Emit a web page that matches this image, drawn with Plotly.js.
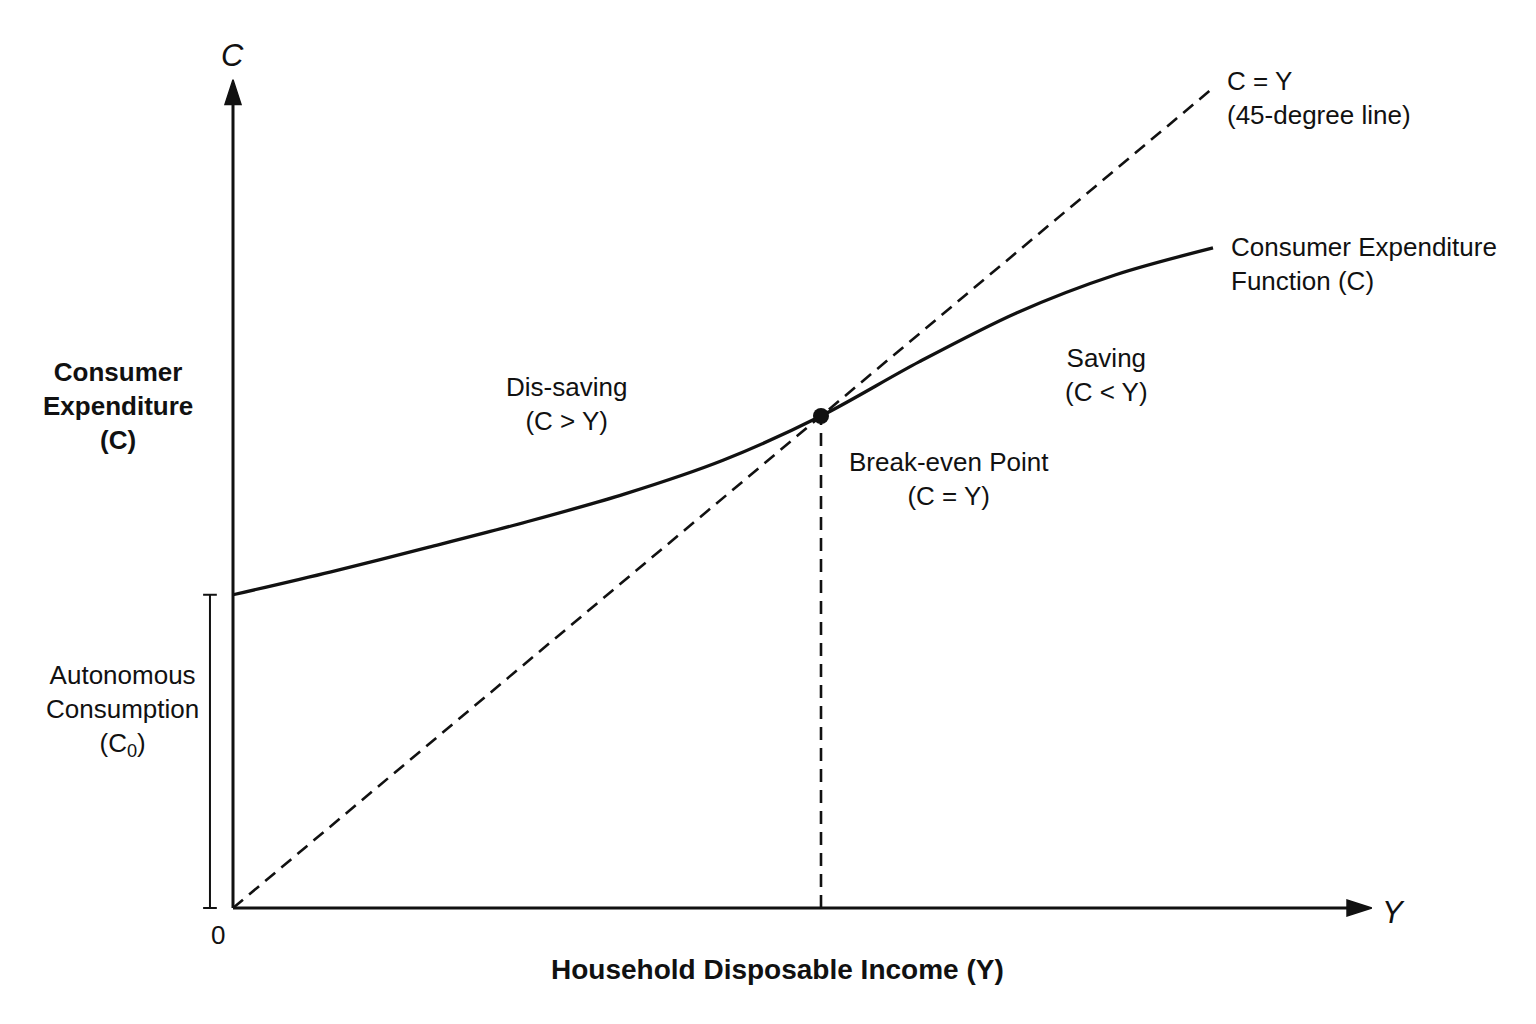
<!DOCTYPE html>
<html>
<head>
<meta charset="utf-8">
<script src="https://cdn.plot.ly/plotly-3.0.1.min.js"></script>
<style>
  html, body { margin: 0; padding: 0; background: #fff; }
  #chart { width: 1536px; height: 1024px; }
</style>
</head>
<body>
<div id="chart"></div>
<script>
// ---- Data ----
const income = [0, 1, 2, 3, 4, 5, 6, 7, 8, 9, 10];
const consumption = [3.82, 4.10, 4.40, 4.71, 5.05, 5.46, 6.00, 6.66, 7.26, 7.72, 8.05];
const line45X = [0, 10];
const line45Y = [0, 10];
const breakEvenX = [6];
const breakEvenY = [6];
const autonomousC0 = consumption[0];
const xAxisEnd = 11.62;
const yAxisEnd = 10.1;

// ---- Pixel helpers (plot area = full page, margins 0) ----
const W = 1536, H = 1024;
const px = v => v / W;
const py = v => 1 - v / H;
const X0 = 233, Y0 = 908, SX = 98, SY = 82;
const xRange = [(0 - X0) / SX, (W - X0) / SX];
const yRange = [(Y0 - H) / SY, Y0 / SY];

const FONT = '"Liberation Sans", Arial, Helvetica, sans-serif';
const INK = '#111111';
const DASH = '13px,8px';

const arrowMarker = {
  color: INK, size: [0, 26], symbol: 'arrow', angleref: 'previous', opacity: 1,
  line: { color: INK, width: 1.5 }
};

const traces = [
  {
    x: line45X, y: line45Y, type: 'scatter', mode: 'lines',
    line: { color: INK, width: 2.6, dash: DASH }, hoverinfo: 'skip'
  },
  {
    x: [breakEvenX[0], breakEvenX[0]], y: [0, breakEvenY[0]], type: 'scatter', mode: 'lines',
    line: { color: INK, width: 2.6, dash: DASH }, hoverinfo: 'skip'
  },
  {
    x: income, y: consumption, type: 'scatter', mode: 'lines',
    line: { color: INK, width: 3.3, shape: 'spline', smoothing: 0.9 }, hoverinfo: 'skip'
  },
  {
    x: breakEvenX, y: breakEvenY, type: 'scatter', mode: 'markers',
    marker: { color: INK, size: 16 }, hoverinfo: 'skip'
  },
  // x axis with arrowhead
  {
    x: [0, xAxisEnd], y: [0, 0], type: 'scatter', mode: 'lines+markers',
    line: { color: INK, width: 3 }, marker: arrowMarker,
    hoverinfo: 'skip', cliponaxis: false
  },
  // y axis with arrowhead
  {
    x: [0, 0], y: [0, yAxisEnd], type: 'scatter', mode: 'lines+markers',
    line: { color: INK, width: 3 }, marker: arrowMarker,
    hoverinfo: 'skip', cliponaxis: false
  }
];

const tick = 0.07;
const shapes = [
  // bracket for autonomous consumption
  { type: 'line', xref: 'x', yref: 'y', x0: -0.235, x1: -0.235, y0: 0, y1: autonomousC0, line: { color: INK, width: 2 } },
  { type: 'line', xref: 'x', yref: 'y', x0: -0.235 - tick, x1: -0.235 + tick, y0: 0, y1: 0, line: { color: INK, width: 2 } },
  { type: 'line', xref: 'x', yref: 'y', x0: -0.235 - tick, x1: -0.235 + tick, y0: autonomousC0, y1: autonomousC0, line: { color: INK, width: 2 } }
];

function txt(text, x, y, opts) {
  return Object.assign({
    text: text, xref: 'paper', yref: 'paper', x: px(x), y: py(y),
    xanchor: 'center', yanchor: 'middle', align: 'center', showarrow: false,
    font: { family: FONT, size: 26, color: INK }
  }, opts || {});
}

const annotations = [
  txt('<i>C</i>', 232, 55, { font: { family: FONT, size: 31, color: INK } }),
  txt('<i>Y</i>', 1393, 912, { font: { family: FONT, size: 31, color: INK } }),
  txt('0', 218, 935),
  txt('C = Y<br>(45-degree line)', 1225, 98, { xanchor: 'left', align: 'left' }),
  txt('Consumer Expenditure<br>Function (C)', 1229, 264, { xanchor: 'left', align: 'left' }),
  txt('Dis-saving<br>(C &gt; Y)', 566, 404),
  txt('Saving<br>(C &lt; Y)', 1106, 375),
  txt('Break-even Point<br>(C = Y)', 949, 479),
  txt('<b>Consumer<br>Expenditure<br>(C)</b>', 118, 406),
  txt('Autonomous<br>Consumption<br>(C<sub>0</sub>)', 122, 710),
  txt('<b>Household Disposable Income (Y)</b>', 777, 969, { font: { family: FONT, size: 28, color: INK } })
];

const layout = {
  width: W, height: H,
  margin: { l: 0, r: 0, t: 0, b: 0, pad: 0 },
  paper_bgcolor: '#ffffff', plot_bgcolor: '#ffffff',
  showlegend: false,
  xaxis: { range: xRange, visible: false, fixedrange: true },
  yaxis: { range: yRange, visible: false, fixedrange: true },
  shapes: shapes,
  annotations: annotations,
  font: { family: FONT, color: INK }
};

Plotly.newPlot('chart', traces, layout, { displayModeBar: false, staticPlot: true });
</script>
</body>
</html>
